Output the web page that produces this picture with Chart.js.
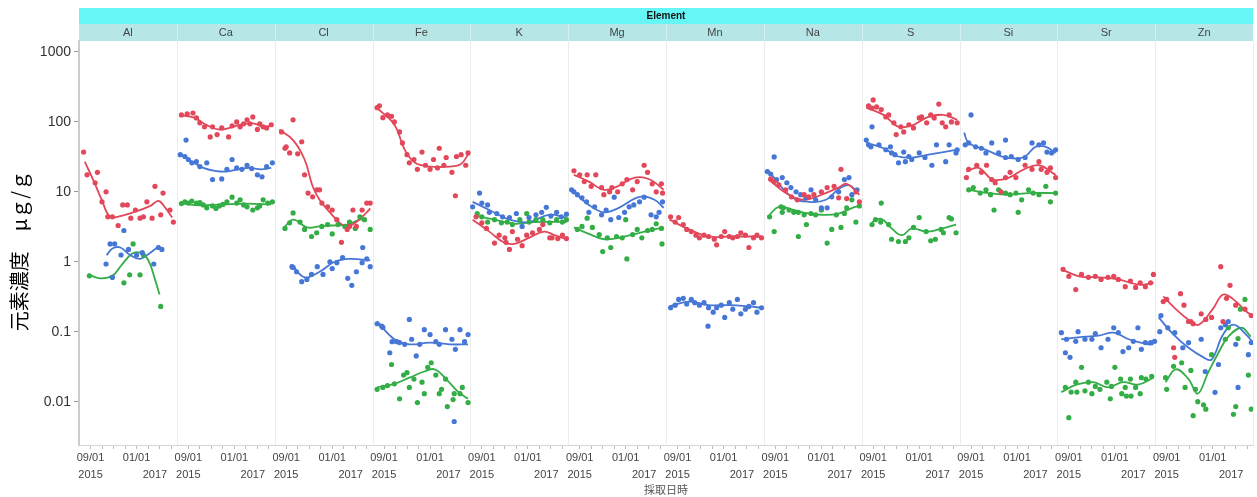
<!DOCTYPE html>
<html>
<head>
<meta charset="utf-8">
<script src="https://cdn.jsdelivr.net/npm/chart.js@4"></script>
<style>
  body { margin: 0; background: #fff; }
  canvas { display: block; }
</style>
</head>
<body>
<canvas id="chart" width="1257" height="497"></canvas>
<script>
// Panels (one per element) and axis ticks
const elements = ['Al', 'Ca', 'Cl', 'Fe', 'K', 'Mg', 'Mn', 'Na', 'S', 'Si', 'Sr', 'Zn'];
const monthTicks = [1, 2, 3, 4, 5, 6, 6.6, 7, 8];   // months after 2015/08/01
const dayLabels = ['09/01', '', '', '', '01/01', '', '', '', ''];
const yearLabels = ['2015', '', '', '', '', '', '2017', '', ''];
const yTicks = [0.01, 0.1, 1, 10, 100, 1000];

// Measured points per element: [month, µg/g]
const redPoints = [
  [[0.4,37],[0.7,17.5],[1.6,19],[1.4,13.5],[2.35,10],[2.0,7.2],[2.5,4.4],[2.9,4.4],[3.4,3.3],[3.8,6.5],[4.2,6.5],[4.5,4.2],[4.9,5.5],[5.3,4.2],[5.6,4.4],[5.9,7.2],[6.35,4.2],[6.6,12],[7.1,4.7],[7.3,9.6],[7.9,5.5],[8.2,3.7]],
  [[0.4,126],[0.9,130],[1.4,134],[1.7,114],[2.0,97],[2.4,85],[2.9,61],[3.1,85],[3.5,66],[3.9,82],[4.5,61],[4.8,88],[5.2,100],[5.5,85],[5.8,94],[6.1,107],[6.35,94],[6.6,118],[7.0,78],[7.2,94],[7.5,85],[7.8,82],[8.2,91]],
  [[0.6,72],[1.6,107],[2.35,52],[0.9,42],[1.0,44],[1.3,36],[2.0,35],[2.6,17.5],[2.9,9.6],[3.3,8.5],[3.65,10.7],[3.9,10.7],[4.1,6.9],[4.6,6.1],[5.0,5.5],[5.4,4.0],[5.8,1.9],[6.3,2.9],[6.5,3.2],[6.8,5.5],[7.1,3.2],[7.6,5.5],[8.0,6.9],[8.3,6.9]],
  [[0.4,160],[0.6,170],[0.9,115],[1.3,126],[1.65,120],[1.9,100],[2.35,72],[2.6,50],[3.0,34],[3.2,26],[3.6,29],[3.9,21],[4.3,37],[4.6,24],[5.0,21],[5.3,29],[5.65,22],[5.8,42],[6.2,24],[6.4,31],[6.9,19],[7.2,8.8],[7.3,32],[7.7,34],[8.1,24],[8.3,36]],
  [[0.5,4.4],[1.0,3.6],[1.4,3.0],[2.1,1.85],[2.5,2.4],[3.0,2.2],[3.1,1.9],[3.4,1.5],[3.65,2.7],[4.1,2.1],[4.5,1.7],[4.9,2.4],[5.4,2.6],[6.0,2.9],[6.3,3.4],[6.9,2.2],[7.1,2.2],[7.6,2.15],[8.0,2.4],[8.35,2.15]],
  [[0.5,20],[1.0,17.5],[1.4,14],[1.65,17.5],[2.0,12],[2.4,17.5],[2.9,11.5],[3.1,9.1],[3.6,10],[3.8,11.5],[4.3,10],[4.7,13],[5.1,15],[5.6,10.7],[6.0,14],[6.6,24],[6.9,19],[7.3,13],[7.65,10],[8.1,13],[8.2,9.6]],
  [[0.4,4.4],[0.8,3.7],[1.1,4.3],[1.5,3.4],[1.8,2.9],[2.2,2.7],[2.6,2.4],[2.9,2.2],[3.3,2.4],[3.7,2.3],[4.2,2.1],[4.4,1.75],[4.8,2.3],[5.1,2.7],[5.5,2.3],[5.8,2.2],[6.2,2.3],[6.5,2.6],[6.9,2.4],[7.2,1.6],[7.6,2.2],[7.9,2.4],[8.3,2.2]],
  [[0.6,15.3],[0.9,14],[1.3,12.6],[1.9,10.7],[2.4,8.5],[2.9,7.7],[3.5,9.1],[3.9,8.5],[4.35,9.1],[5.0,10],[5.5,11.5],[6.1,12],[6.7,21],[6.5,8.2],[7.2,8.0],[8.0,10],[8.3,7.2]],
  [[1.0,206],[0.6,170],[0.9,158],[1.3,164],[1.7,150],[2.1,118],[2.35,126],[2.8,97],[3.0,66],[3.4,85],[3.65,72],[4.1,91],[4.5,82],[5.0,114],[5.2,118],[5.65,97],[6.0,126],[6.3,114],[6.7,180],[7.0,97],[7.3,85],[7.6,126],[7.8,100],[8.3,97]],
  [[0.6,16],[0.8,21],[1.5,24],[2.35,24],[1.9,19],[2.8,15],[3.1,13.5],[3.6,10],[4.0,16],[4.4,19],[4.9,16],[5.7,24],[6.3,21],[6.9,27],[7.1,21],[7.6,19],[7.9,22],[8.35,16]],
  [[0.5,0.78],[1.0,0.62],[1.6,0.4],[2.1,0.66],[2.7,0.6],[3.3,0.62],[3.8,0.56],[4.4,0.6],[4.9,0.62],[5.3,0.56],[5.9,0.44],[6.35,0.53],[6.8,0.43],[7.2,0.5],[7.65,0.44],[8.1,0.5],[8.35,0.66]],
  [[0.7,0.27],[1.0,0.29],[2.2,0.35],[2.5,0.24],[2.9,0.14],[3.3,0.13],[4.0,0.18],[4.4,0.15],[4.9,0.16],[5.7,0.85],[5.9,0.14],[6.5,0.46],[6.2,0.3],[7.0,0.24],[7.8,0.21],[8.35,0.17],[1.6,0.059],[1.7,0.043],[3.1,0.14]]
];
const bluePoints = [
  [[2.7,1.8],[3.1,1.8],[2.35,0.93],[2.9,0.6],[3.65,1.25],[3.9,2.8],[4.3,1.5],[5.0,1.25],[5.5,1.35],[6.5,0.93],[6.9,1.6],[7.2,1.5]],
  [[0.3,34],[0.7,32],[0.8,55],[1.0,29],[1.3,26],[1.7,27],[2.0,23],[2.6,26],[3.1,15],[3.9,15.3],[4.35,21],[4.8,29],[5.2,22],[5.65,21],[6.1,24],[6.5,21.5],[7.0,17.5],[7.4,16.4],[7.8,23],[8.3,26]],
  [[1.5,0.85],[1.6,0.83],[1.9,0.72],[2.35,0.52],[2.8,0.56],[3.2,0.66],[3.7,0.85],[4.2,0.66],[4.8,1.0],[5.0,0.8],[5.4,0.97],[5.9,1.15],[6.35,0.58],[6.7,0.46],[7.1,0.72],[7.6,0.97],[7.65,1.6],[8.0,1.1],[8.3,0.85]],
  [[0.4,0.13],[0.8,0.12],[0.9,0.115],[1.5,0.05],[1.7,0.072],[2.1,0.072],[2.35,0.07],[2.8,0.066],[3.2,0.15],[3.4,0.078],[3.8,0.045],[4.1,0.066],[4.5,0.107],[5.0,0.091],[5.5,0.072],[5.8,0.066],[6.35,0.107],[6.9,0.078],[7.1,0.0052],[7.2,0.056],[7.6,0.107],[8.0,0.072],[8.3,0.091]],
  [[0.2,6.1],[0.8,9.6],[1.0,6.9],[1.5,6.5],[1.65,5.1],[2.3,4.9],[2.8,4.4],[3.4,4.3],[4.0,4.9],[4.5,3.2],[5.1,4.3],[5.7,4.7],[6.2,5.1],[6.6,6.0],[7.0,4.5],[7.5,5.1],[7.9,4.4],[8.35,4.8]],
  [[0.3,10.7],[0.5,10],[0.8,9.1],[1.2,8.2],[1.6,7.2],[1.8,5.1],[2.3,6.1],[2.9,4.7],[3.3,5.5],[3.7,4.0],[4.0,8.4],[4.4,4.3],[4.9,5.1],[5.3,6.1],[5.7,6.5],[6.2,7.2],[6.6,8.4],[7.2,4.7],[7.65,4.4],[7.9,5.1],[8.2,7.2]],
  [[0.4,0.22],[0.8,0.24],[1.1,0.29],[1.5,0.3],[1.8,0.25],[2.2,0.29],[2.5,0.26],[2.9,0.24],[3.3,0.26],[3.65,0.12],[3.7,0.22],[4.1,0.19],[4.4,0.22],[4.8,0.24],[5.1,0.16],[5.5,0.26],[5.8,0.21],[6.2,0.29],[6.5,0.18],[6.9,0.21],[7.2,0.23],[7.6,0.26],[7.9,0.19],[8.3,0.22]],
  [[0.9,31.6],[0.3,19.5],[0.6,18],[1.1,15],[1.6,16],[2.0,13.5],[2.35,11.5],[2.8,10],[3.2,9.1],[3.65,8.2],[4.1,10.7],[4.5,7.7],[5.0,5.9],[5.5,5.9],[5.9,8.5],[6.5,10],[7.0,15],[7.4,16],[7.65,9.1],[8.1,10.7]],
  [[0.9,85],[0.4,55],[0.8,44],[0.6,47],[1.5,47],[2.1,40],[2.5,44],[2.6,36],[2.9,34],[3.2,26],[3.65,37],[3.8,27],[4.1,32],[4.35,29],[5.0,36],[5.5,31],[6.1,24],[6.5,47],[7.3,27],[7.6,47],[8.2,36],[8.3,40]],
  [[1.0,126],[0.5,47],[0.8,50],[1.4,44],[1.9,42],[2.3,36],[2.8,50],[3.4,36],[4.0,31],[4.5,32],[5.1,29],[5.7,31],[6.3,50],[6.9,47],[7.3,50],[7.6,37],[8.0,36],[8.35,40],[4.0,55]],
  [[0.35,0.097],[0.7,0.05],[1.1,0.043],[0.8,0.078],[1.6,0.073],[1.8,0.1],[2.4,0.078],[3.0,0.078],[3.3,0.094],[3.8,0.059],[4.4,0.078],[4.9,0.114],[5.3,0.097],[5.7,0.052],[6.2,0.059],[6.6,0.073],[7.0,0.114],[7.3,0.056],[7.65,0.07],[8.1,0.07],[8.45,0.073]],
  [[0.5,0.17],[0.4,0.1],[1.1,0.114],[1.7,0.097],[2.4,0.059],[2.9,0.07],[4.0,0.078],[4.35,0.027],[5.5,0.034],[5.7,0.114],[6.1,0.126],[6.35,0.14],[7.0,0.066],[8.1,0.047],[8.35,0.07],[7.2,0.016],[5.2,0.0136]]
];
const greenPoints = [
  [[0.9,0.63],[2.9,0.6],[3.9,0.5],[4.4,0.65],[4.7,1.8],[5.3,0.65],[5.6,1.25],[7.1,0.23]],
  [[0.4,6.8],[0.7,7.2],[1.0,6.9],[1.3,7.4],[1.7,6.9],[2.0,7.0],[2.3,6.5],[2.6,5.9],[3.1,6.3],[3.4,5.8],[3.7,6.3],[4.0,6.6],[4.35,7.2],[4.8,8.4],[5.2,6.9],[5.5,7.7],[5.8,6.5],[6.1,6.1],[6.6,5.5],[7.0,5.9],[7.2,6.3],[7.5,7.7],[7.9,6.9],[8.3,7.2]],
  [[1.6,5.0],[0.9,3.0],[1.3,3.6],[2.2,3.7],[2.6,2.9],[3.2,2.3],[3.65,2.6],[4.1,3.2],[4.6,3.4],[5.0,2.5],[5.5,3.4],[6.1,3.2],[6.5,3.7],[7.0,3.0],[7.4,4.4],[7.8,4.0],[8.3,2.9]],
  [[0.4,0.015],[0.9,0.016],[1.3,0.017],[1.65,0.034],[1.9,0.018],[2.35,0.011],[2.7,0.024],[3.0,0.026],[3.2,0.016],[3.6,0.021],[3.9,0.0097],[4.3,0.019],[4.5,0.013],[4.8,0.031],[5.1,0.036],[5.5,0.024],[5.8,0.013],[6.0,0.015],[6.35,0.021],[6.5,0.0085],[7.0,0.0107],[7.1,0.013],[7.6,0.013],[7.8,0.016],[8.3,0.0097]],
  [[0.6,4.9],[1.0,4.4],[1.5,3.7],[2.1,4.0],[2.7,3.6],[3.2,3.7],[3.65,3.4],[4.3,4.0],[4.9,4.9],[5.1,3.7],[5.7,4.0],[6.3,4.0],[6.9,3.6],[7.5,4.0],[8.0,3.7],[8.35,4.0]],
  [[0.8,2.9],[1.2,3.2],[1.65,4.2],[2.1,3.1],[2.7,2.45],[3.0,1.4],[3.4,2.2],[3.7,1.6],[4.2,2.3],[4.7,2.2],[5.0,4.0],[5.1,1.1],[5.6,2.45],[6.0,2.9],[6.4,2.2],[6.9,2.8],[7.3,2.9],[7.65,3.5],[8.1,3.0],[8.15,1.8]],
  [],
  [[1.5,6.1],[1.6,5.1],[0.9,2.7],[0.5,4.4],[1.7,5.9],[2.2,5.5],[2.6,5.1],[3.0,5.1],[3.5,4.7],[3.7,3.4],[4.1,4.9],[4.5,4.7],[5.0,5.5],[5.5,1.85],[5.9,2.9],[6.3,4.7],[6.7,3.1],[7.0,4.9],[7.2,5.9],[7.65,7.7],[8.0,3.7],[8.3,6.3],[3.0,2.3]],
  [[0.9,3.4],[1.7,6.9],[1.2,4.0],[1.65,3.7],[2.35,3.4],[2.6,2.1],[3.2,1.95],[3.8,1.95],[4.1,2.2],[4.5,3.1],[5.0,4.3],[5.6,2.7],[6.0,2.0],[6.4,2.1],[6.9,2.9],[7.1,2.6],[7.6,4.3],[7.8,4.1],[8.2,2.6]],
  [[0.8,10.7],[1.2,11.5],[1.8,9.6],[2.3,10.7],[2.7,9.1],[3.0,5.5],[3.4,10.7],[4.0,9.6],[4.4,9.1],[4.9,9.6],[5.1,5.1],[5.4,7.7],[6.0,10.7],[6.4,9.6],[6.9,9.1],[7.5,12],[7.9,7.2],[8.35,9.6]],
  [[0.7,0.016],[1.2,0.0137],[1.6,0.019],[2.1,0.031],[2.7,0.019],[3.3,0.0165],[3.7,0.015],[4.3,0.019],[4.7,0.0165],[5.0,0.031],[5.5,0.021],[5.9,0.016],[6.35,0.021],[6.8,0.016],[7.3,0.022],[7.7,0.021],[8.2,0.023],[1.0,0.0059],[1.7,0.0137],[2.4,0.0143],[3.0,0.013],[4.6,0.011],[5.6,0.013],[6.0,0.012],[6.4,0.012],[7.2,0.013]],
  [[0.9,0.022],[1.0,0.015],[1.6,0.032],[2.3,0.036],[3.1,0.028],[3.5,0.015],[2.6,0.016],[3.7,0.01],[4.2,0.009],[4.4,0.0078],[3.3,0.0063],[4.9,0.047],[6.1,0.078],[6.35,0.114],[7.4,0.21],[7.8,0.29],[7.2,0.08],[8.1,0.024],[6.8,0.0066],[8.35,0.0078],[7.0,0.0085]]
];

// Smoothed trend per element: [month, µg/g]
const redCurve = [
  [[0.5,27],[1.3,14],[2.0,7.5],[2.7,4.4],[3.6,4.5],[4.9,5.2],[6.2,6.3],[6.9,7.4],[7.5,5.9],[8.1,4.3]],
  [[0.3,125],[1.5,115],[2.6,90],[3.6,78],[4.6,82],[5.6,92],[6.6,95],[7.6,85],[8.2,88]],
  [[0.4,77],[1.6,55],[2.6,29],[3.3,12],[3.9,7.7],[4.8,5.1],[5.65,3.6],[6.3,3.2],[7.1,3.7],[8.0,5.1],[8.3,5.8]],
  [[0.4,158],[1.9,91],[2.8,40],[3.7,26],[5.0,23],[6.7,23],[7.7,25],[8.3,34]],
  [[0.2,4.0],[1.65,2.7],[2.9,1.9],[3.8,1.8],[5.1,2.2],[6.4,2.7],[7.3,2.4],[8.35,2.1]],
  [[0.5,17.5],[1.8,14],[3.1,10.7],[4.3,12],[5.8,16],[7.1,15],[8.3,10.7]],
  [[0.3,4.0],[2.0,2.9],[3.7,2.3],[5.5,2.3],[7.2,2.3],[8.3,2.3]],
  [[0.4,15],[2.2,9],[3.5,7.7],[4.8,8.8],[6.5,11.5],[7.2,13],[8.3,9.1]],
  [[0.4,160],[1.9,126],[3.2,85],[4.5,91],[5.8,118],[7.1,126],[8.3,107]],
  [[0.6,19.5],[1.65,22],[2.9,15],[4.3,16],[5.6,21],[6.9,24],[8.35,17.5]],
  [[0.35,0.78],[1.9,0.62],[3.6,0.6],[5.3,0.56],[7.1,0.47],[8.35,0.5]],
  [[0.7,0.32],[1.8,0.21],[3.1,0.14],[3.8,0.126],[5.0,0.21],[5.9,0.34],[6.8,0.29],[8.0,0.19],[8.5,0.17]]
];
const blueCurve = [
  [[2.4,1.24],[2.9,1.55],[3.6,1.6],[4.4,1.26],[5.3,1.1],[6.2,1.35],[7.0,1.7]],
  [[0.3,35],[1.3,27],[2.3,22],[3.3,20],[4.3,19.5],[5.3,21],[6.3,22],[7.3,21],[8.2,22]],
  [[1.5,0.91],[2.6,0.6],[3.9,0.72],[5.2,1.0],[6.5,1.1],[8.3,1.05]],
  [[0.4,0.14],[1.9,0.078],[3.2,0.066],[5.0,0.07],[6.7,0.066],[8.3,0.066]],
  [[0.2,7.2],[1.65,5.5],[3.4,4.0],[5.1,3.7],[6.8,4.7],[8.35,4.3]],
  [[0.3,10.7],[1.8,6.5],[3.1,5.1],[4.4,5.9],[6.2,8.5],[7.5,7.7],[8.3,5.9]],
  [[0.3,0.23],[2.0,0.27],[3.7,0.24],[5.5,0.24],[7.2,0.23],[8.3,0.22]],
  [[0.3,21],[2.4,8.5],[3.9,7.2],[5.4,7.7],[6.5,11],[7.4,12.5],[8.1,10]],
  [[0.4,50],[1.9,42],[3.2,32],[4.5,31],[5.8,34],[7.1,37],[8.3,40]],
  [[0.4,70],[0.8,50],[2.3,40],[3.7,32],[4.9,30],[5.7,32],[6.6,44],[7.5,44],[8.35,36]],
  [[0.35,0.078],[1.8,0.083],[3.6,0.088],[4.9,0.097],[6.2,0.078],[7.9,0.066],[8.35,0.066]],
  [[0.3,0.16],[1.6,0.091],[2.9,0.059],[4.2,0.043],[4.9,0.04],[5.9,0.091],[6.8,0.126],[7.9,0.091],[8.5,0.07]]
];
const greenCurve = [
  [[0.8,0.66],[1.8,0.58],[2.9,0.63],[3.7,0.9],[4.6,1.3],[5.3,1.35],[6.0,1.07],[6.6,0.56],[7.0,0.34]],
  [[0.3,6.9],[2.0,6.4],[4.0,6.6],[6.0,6.8],[8.2,6.6]],
  [[0.7,2.9],[1.6,4.0],[2.8,3.1],[3.9,3.2],[5.0,3.3],[6.3,3.4],[7.4,4.0],[8.0,4.0]],
  [[0.4,0.016],[1.9,0.018],[3.2,0.022],[4.5,0.027],[5.4,0.029],[6.4,0.021],[7.4,0.014],[8.3,0.011]],
  [[0.4,4.6],[2.1,4.0],[3.8,3.5],[5.6,3.7],[8.35,3.7]],
  [[0.5,3.1],[1.8,2.5],[3.1,2.1],[4.4,2.2],[6.2,2.6],[8.3,3.1]],
  [],
  [[0.5,4.7],[1.3,6.1],[2.6,5.5],[3.9,4.9],[5.2,4.7],[6.5,4.9],[7.8,6.0],[8.3,6.3]],
  [[0.9,3.7],[1.7,4.1],[2.6,3.0],[3.5,2.4],[4.35,3.0],[5.6,2.7],[6.7,2.9],[8.2,3.4]],
  [[0.8,10.7],[2.5,9.6],[4.3,9.1],[6.0,9.6],[8.35,9.6]],
  [[0.35,0.0137],[1.65,0.0175],[3.1,0.019],[4.4,0.016],[5.7,0.019],[7.0,0.0175],[8.35,0.022]],
  [[0.9,0.019],[1.8,0.029],[2.9,0.021],[3.7,0.013],[4.6,0.026],[5.5,0.05],[6.35,0.085],[7.5,0.114],[8.3,0.085]]
];

const PANEL = 8.5; // months shown in each panel
const RED = '#e2475a', BLUE = '#4677d6', GREEN = '#33ad45';

function toPoints(series) {
  const out = [];
  series.forEach((pts, p) => pts.forEach(([m, v]) => out.push({ x: p * PANEL + m, y: v })));
  return out;
}

function toCurve(series) {
  const out = [];
  series.forEach((pts, p) => {
    pts.forEach(([m, v]) => out.push({ x: p * PANEL + m, y: v }));
    out.push({ x: p * PANEL + PANEL - 0.01, y: null });
  });
  return out;
}

function pointSet(data, color) {
  return { data: toPoints(data), backgroundColor: color, borderWidth: 0, pointRadius: 2.6, showLine: false };
}

function curveSet(data, color) {
  return { data: toCurve(data), borderColor: color, borderWidth: 1.8, pointRadius: 0, showLine: true, tension: 0.4, spanGaps: false };
}

// Facet headers, separators and axis titles
const facetPlugin = {
  id: 'facets',
  beforeDatasetsDraw(chart) {
    const { ctx, chartArea: a, scales: { x } } = chart;
    ctx.save();
    ctx.strokeStyle = '#ececec';
    ctx.lineWidth = 1;
    for (let p = 1; p <= elements.length; p++) {
      const px = Math.round(x.getPixelForValue(p * PANEL)) + 0.5;
      ctx.beginPath();
      ctx.moveTo(px, a.top);
      ctx.lineTo(px, a.bottom);
      ctx.stroke();
    }
    ctx.restore();
  },
  afterDraw(chart) {
    const { ctx, chartArea: a, scales: { x } } = chart;
    ctx.save();
    ctx.fillStyle = '#66f6f6';
    ctx.fillRect(a.left, 8, a.right - a.left, 16);
    ctx.fillStyle = '#b6e6e6';
    ctx.fillRect(a.left, 24, a.right - a.left, 17);
    ctx.fillStyle = '#111';
    ctx.font = 'bold 10px "Liberation Sans", Arial, sans-serif';
    ctx.textAlign = 'center';
    ctx.textBaseline = 'middle';
    ctx.fillText('Element', (a.left + a.right) / 2, 16.5);
    ctx.font = '11px "Liberation Sans", Arial, sans-serif';
    elements.forEach((el, p) => {
      const l = x.getPixelForValue(p * PANEL), r = x.getPixelForValue((p + 1) * PANEL);
      if (p > 0) {
        ctx.fillStyle = '#d4f0f0';
        ctx.fillRect(Math.round(l), 24, 1, 17);
      }
      ctx.fillStyle = '#444';
      ctx.fillText(el, (l + r) / 2, 33);
    });
    ctx.fillStyle = '#555';
    ctx.font = '11px "Noto Sans CJK JP", sans-serif';
    ctx.fillText('採取日時', (a.left + a.right) / 2, 490);
    ctx.translate(19, 251);
    ctx.rotate(-Math.PI / 2);
    ctx.fillStyle = '#000';
    ctx.font = '20px "Noto Sans CJK JP", sans-serif';
    ctx.fillText('元素濃度　μｇ/ｇ', 0, 0);
    ctx.restore();
  }
};

const xTickValues = [];
elements.forEach((el, p) => monthTicks.forEach(m => xTickValues.push(p * PANEL + m)));

new Chart(document.getElementById('chart'), {
  type: 'scatter',
  data: {
    datasets: [
      pointSet(redPoints, RED), pointSet(bluePoints, BLUE), pointSet(greenPoints, GREEN),
      curveSet(redCurve, RED), curveSet(blueCurve, BLUE), curveSet(greenCurve, GREEN)
    ]
  },
  options: {
    responsive: false,
    animation: false,
    devicePixelRatio: 1,
    layout: { padding: { left: 0, right: 2, top: 41, bottom: 0 } },
    plugins: { legend: { display: false }, tooltip: { enabled: false } },
    scales: {
      x: {
        type: 'linear',
        min: 0,
        max: elements.length * PANEL,
        afterFit: s => { s.height = 52; },
        afterBuildTicks: s => { s.ticks = xTickValues.map(v => ({ value: v })); },
        grid: {
          drawOnChartArea: false,
          tickLength: 4,
          color: ctx => (ctx.index % monthTicks.length === 6 ? 'rgba(0,0,0,0)' : '#bdbdbd')
        },
        border: { color: '#d6d6d6', width: 1 },
        ticks: {
          autoSkip: false,
          maxRotation: 0,
          padding: 0,
          color: '#444',
          font: { family: '"Liberation Sans", Arial, sans-serif', size: 11, lineHeight: 1.6 },
          callback: (v, i) => {
            const k = i % monthTicks.length;
            if (!dayLabels[k] && !yearLabels[k]) return '';
            return [dayLabels[k], yearLabels[k]];
          }
        }
      },
      y: {
        type: 'logarithmic',
        min: 0.0024,
        max: 1435,
        afterFit: s => { s.width = 79; },
        afterBuildTicks: s => { s.ticks = yTicks.map(v => ({ value: v })); },
        grid: { drawOnChartArea: false, tickLength: 5, color: '#999' },
        border: { color: '#cccccc', width: 2 },
        ticks: {
          color: '#333',
          padding: 3,
          font: { family: '"Liberation Sans", Arial, sans-serif', size: 14 },
          callback: v => String(v)
        }
      }
    }
  },
  plugins: [facetPlugin]
});
</script>
</body>
</html>
